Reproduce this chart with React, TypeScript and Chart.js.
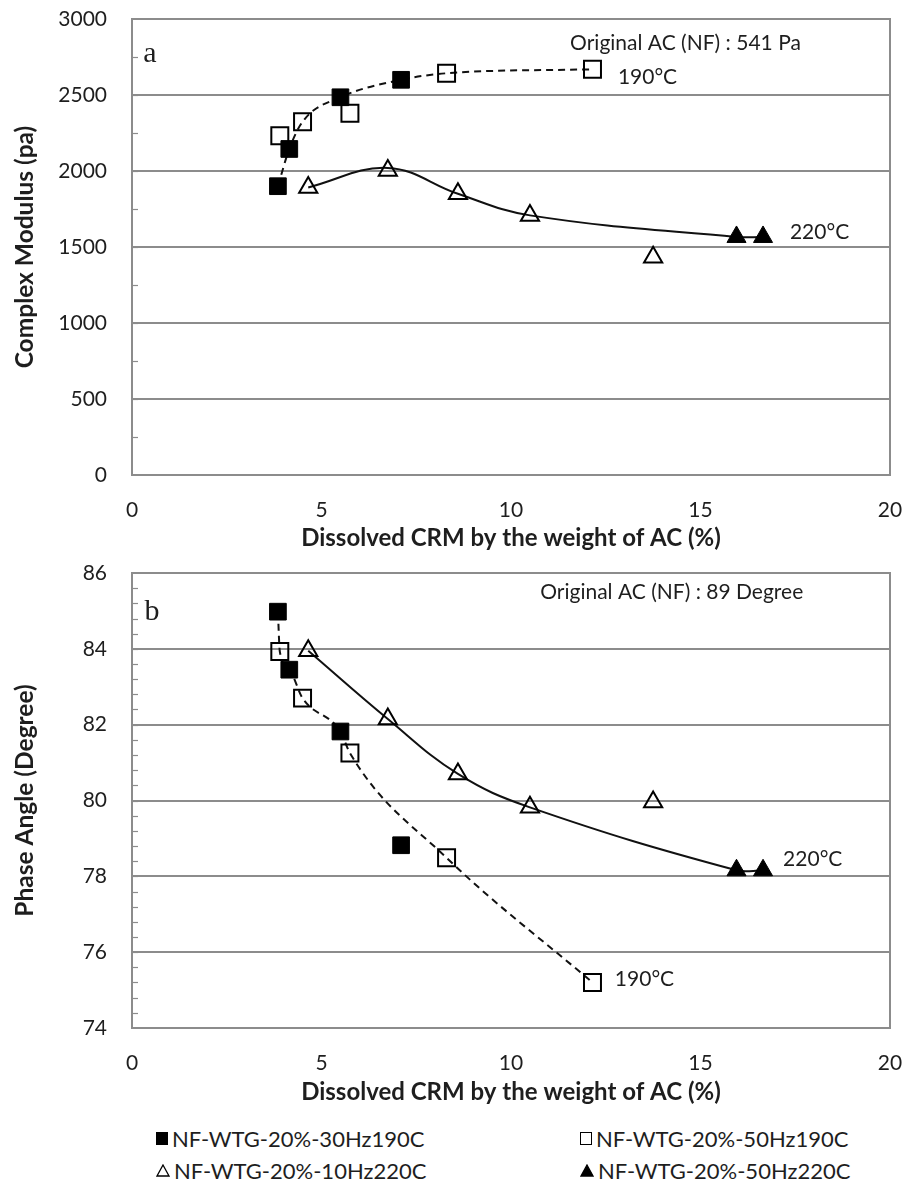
import React, { useEffect, useRef } from 'react';
import { Chart, registerables } from 'chart.js';

Chart.register(...registerables);

const FONT = 'Lato, "Open Sans", sans-serif';
const SERIF = '"Liberation Serif", "Times New Roman", serif';

// ---- Series names ----
const seriesNames = [
  'NF-WTG-20%-30Hz190C',
  'NF-WTG-20%-50Hz190C',
  'NF-WTG-20%-10Hz220C',
  'NF-WTG-20%-50Hz220C',
];

// ---- X values (dissolved CRM, %) ----
const sq30X = [3.85, 4.15, 5.5, 7.1];
const sq50X = [3.9, 4.5, 5.75, 8.3, 12.15];
const tri10X = [4.65, 6.75, 8.6, 10.5, 13.75];
const tri50X = [15.95, 16.65];

// ---- Chart a: complex modulus (Pa) ----
const sq30A = [1900, 2145, 2485, 2600];
const sq50A = [2232, 2324, 2380, 2643, 2669];
const tri10A = [1892, 2004, 1850, 1708, 1432];
const tri50A = [1566, 1566];
const trendA190X = [3.85, 4.15, 4.5, 5.5, 7.1, 8.3, 12.15];
const trendA190Y = [1900, 2145, 2324, 2485, 2600, 2643, 2669];
const trendA220X = [4.65, 6.75, 8.6, 10.5, 15.95, 16.65];
const trendA220Y = [1892, 2020, 1850, 1708, 1566, 1566];

// ---- Chart b: phase angle (degree) ----
const sq30B = [84.98, 83.45, 81.82, 78.82];
const sq50B = [83.93, 82.7, 81.25, 78.49, 75.2];
const tri10B = [83.95, 82.15, 80.7, 79.82, 79.96];
const tri50B = [78.16, 78.16];
const trendB190X = [3.85, 3.9, 4.15, 4.5, 5.5, 5.75, 8.3, 12.15];
const trendB190Y = [84.98, 83.93, 83.45, 82.7, 81.82, 81.25, 78.49, 75.2];
const trendB220X = [4.65, 6.75, 8.6, 10.5, 15.95, 16.65];
const trendB220Y = [83.95, 82.15, 80.7, 79.82, 78.16, 78.16];

// ---- Axes ----
const xMin = 0, xMax = 20, xStep = 5;
const xTitle = 'Dissolved CRM by the weight of AC (%)';
const aYMin = 0, aYMax = 3000, aYStep = 500, aYMinor = 250;
const aYTitle = 'Complex Modulus (pa)';
const bYMin = 74, bYMax = 86, bYStep = 2, bYMinor = 0.4;
const bYTitle = 'Phase Angle (Degree)';

// ---- Text notes (data coordinates) ----
const notesA = [
  { text: 'Original AC (NF) : 541 Pa', x: 11.56, y: 2842, align: 'left', serif: false },
  { text: '190°C', x: 12.82, y: 2618, align: 'left', serif: false },
  { text: '220°C', x: 17.36, y: 1599, align: 'left', serif: false },
  { text: 'a', x: 0.47, y: 2770, align: 'center', serif: true },
];
const notesB = [
  { text: 'Original AC (NF) : 89 Degree', x: 10.77, y: 85.5, align: 'left', serif: false },
  { text: '220°C', x: 17.18, y: 78.45, align: 'left', serif: false },
  { text: '190°C', x: 12.74, y: 75.29, align: 'left', serif: false },
  { text: 'b', x: 0.53, y: 84.97, align: 'center', serif: true },
];

const pts = (xs: number[], ys: number[]) => xs.map((x, i) => ({ x, y: ys[i] }));

const GRID = '#8c8c8c';
const TEXT = '#1e1e1e';

const framePlugin = {
  id: 'frame',
  beforeDatasetsDraw(chart: any) {
    const { ctx, chartArea: a } = chart;
    const minor = chart.options.plugins.frame?.minor;
    const ys = chart.scales.y;
    ctx.save();
    ctx.strokeStyle = GRID;
    ctx.lineWidth = 2;
    ctx.strokeRect(a.left, a.top, a.right - a.left, a.bottom - a.top);
    if (minor) {
      ctx.lineWidth = 1.2;
      const n = Math.round((ys.max - ys.min) / minor);
      for (let i = 1; i < n; i++) {
        const v = ys.min + i * minor;
        const py = Math.round(ys.getPixelForValue(v)) + 0.5;
        ctx.beginPath();
        ctx.moveTo(a.left, py);
        ctx.lineTo(a.left + 6, py);
        ctx.stroke();
      }
    }
    ctx.restore();
  },
};

const notesPlugin = {
  id: 'notes',
  afterDatasetsDraw(chart: any) {
    const notes = chart.options.plugins.notes?.items || [];
    const { ctx } = chart;
    ctx.save();
    ctx.fillStyle = TEXT;
    ctx.textBaseline = 'middle';
    for (const n of notes) {
      ctx.font = n.serif ? `30px ${SERIF}` : `21px ${FONT}`;
      ctx.textAlign = n.align;
      ctx.fillText(n.text, chart.scales.x.getPixelForValue(n.x), chart.scales.y.getPixelForValue(n.y));
    }
    ctx.restore();
  },
};

const zeroPad = (s: any) => {
  s.paddingTop = 0;
  s.paddingBottom = 0;
  s.paddingLeft = 0;
  s.paddingRight = 0;
};

function buildConfig(p: any) {
  const lineCommon = {
    borderColor: '#111',
    borderWidth: 2,
    pointRadius: 0,
    showLine: true,
    fill: false,
  };
  return {
    type: 'scatter',
    data: {
      datasets: [
        {
          label: seriesNames[0],
          data: pts(sq30X, p.sq30),
          pointStyle: 'rect',
          pointRadius: 11.8,
          backgroundColor: '#000',
          borderColor: '#000',
          borderWidth: 1,
          order: 1,
        },
        {
          label: seriesNames[1],
          data: pts(sq50X, p.sq50),
          pointStyle: 'rect',
          pointRadius: 12,
          backgroundColor: 'rgba(0,0,0,0)',
          borderColor: '#000',
          borderWidth: 2,
          order: 2,
        },
        {
          label: seriesNames[2],
          data: pts(tri10X, p.tri10),
          pointStyle: 'triangle',
          pointRadius: 10.5,
          backgroundColor: 'rgba(0,0,0,0)',
          borderColor: '#000',
          borderWidth: 2,
          order: 3,
        },
        {
          label: seriesNames[3],
          data: pts(tri50X, p.tri50),
          pointStyle: 'triangle',
          pointRadius: 11,
          backgroundColor: '#000',
          borderColor: '#000',
          borderWidth: 1,
          order: 4,
        },
        {
          label: '190°C trend',
          data: pts(p.t190x, p.t190y),
          ...lineCommon,
          borderDash: [7, 5],
          cubicInterpolationMode: 'monotone',
          order: 10,
        },
        {
          label: '220°C trend',
          data: pts(p.t220x, p.t220y),
          ...lineCommon,
          tension: 0.4,
          order: 11,
        },
      ],
    },
    options: {
      responsive: false,
      animation: false,
      events: [],
      layout: { padding: { left: 0, top: 19, right: 19, bottom: 0 } },
      plugins: {
        legend: { display: false },
        tooltip: { enabled: false },
        frame: { minor: p.yMinor },
        notes: { items: p.notes },
      },
      scales: {
        x: {
          type: 'linear',
          min: xMin,
          max: xMax,
          afterFit: (s: any) => { s.height = p.xAxisH; zeroPad(s); },
          ticks: { stepSize: xStep, padding: 23, color: TEXT, font: { family: FONT, size: 21 } },
          grid: { display: false, drawTicks: false },
          border: { display: false },
          title: {
            display: true,
            text: xTitle,
            color: TEXT,
            font: { family: FONT, size: 24, weight: 'bold' },
            padding: { top: 0, bottom: 7 },
          },
        },
        y: {
          type: 'linear',
          min: p.yMin,
          max: p.yMax,
          afterFit: (s: any) => { s.width = 132; zeroPad(s); },
          ticks: {
            stepSize: p.yStep,
            padding: 25,
            color: TEXT,
            font: { family: FONT, size: 21 },
            callback: (v: any) => String(v),
          },
          grid: { color: GRID, lineWidth: 2, drawTicks: false },
          border: { display: false },
          title: {
            display: true,
            text: p.yTitle,
            color: TEXT,
            font: { family: FONT, size: 24.5, weight: 'bold' },
            padding: { top: 10, bottom: 0 },
          },
        },
      },
    },
    plugins: [framePlugin, notesPlugin],
  };
}

function ChartCanvas({ cfg, top, height }: { cfg: any; top: number; height: number }) {
  const ref = useRef<HTMLCanvasElement>(null);
  useEffect(() => {
    if (!ref.current) return;
    const chart = new Chart(ref.current, cfg);
    return () => chart.destroy();
  }, [cfg]);
  return (
    <canvas
      ref={ref}
      width={909}
      height={height}
      style={{ position: 'absolute', left: 0, top, width: 909, height }}
    />
  );
}

const cfgA = buildConfig({
  sq30: sq30A, sq50: sq50A, tri10: tri10A, tri50: tri50A,
  t190x: trendA190X, t190y: trendA190Y, t220x: trendA220X, t220y: trendA220Y,
  yMin: aYMin, yMax: aYMax, yStep: aYStep, yMinor: aYMinor, yTitle: aYTitle,
  notes: notesA, xAxisH: 85,
});
const cfgB = buildConfig({
  sq30: sq30B, sq50: sq50B, tri10: tri10B, tri50: tri50B,
  t190x: trendB190X, t190y: trendB190Y, t220x: trendB220X, t220y: trendB220Y,
  yMin: bYMin, yMax: bYMax, yStep: bYStep, yMinor: bYMinor, yTitle: bYTitle,
  notes: notesB, xAxisH: 86,
});

function Marker({ kind }: { kind: number }) {
  if (kind === 0) return <span style={{ display: 'inline-block', width: 12, height: 13, background: '#000' }} />;
  if (kind === 1) return <span style={{ display: 'inline-block', width: 10, height: 11, border: '1.5px solid #000' }} />;
  const filled = kind === 3;
  return (
    <svg width="14" height="13" viewBox="0 0 14 13" style={{ display: 'block' }}>
      <polygon points="7,1 13,12 1,12" fill={filled ? '#000' : 'none'} stroke="#000" strokeWidth="1.3" />
    </svg>
  );
}

const legendPos = [
  { left: 156, top: 1138 },
  { left: 580, top: 1138 },
  { left: 156, top: 1170 },
  { left: 580, top: 1170 },
];

export default function App() {
  return (
    <div style={{ position: 'absolute', left: 0, top: 0, width: 909, height: 1188, background: '#fff', overflow: 'hidden' }}>
      <ChartCanvas cfg={cfgA} top={0} height={560} />
      <ChartCanvas cfg={cfgB} top={554} height={560} />
      {seriesNames.map((name, i) => (
        <div
          key={name}
          style={{
            position: 'absolute',
            left: legendPos[i].left,
            top: legendPos[i].top - 14,
            height: 28,
            display: 'flex',
            alignItems: 'center',
            gap: 4,
            fontFamily: FONT,
            fontSize: 22,
            color: TEXT,
            whiteSpace: 'nowrap',
          }}
        >
          <Marker kind={i} />
          <span>{name}</span>
        </div>
      ))}
    </div>
  );
}
